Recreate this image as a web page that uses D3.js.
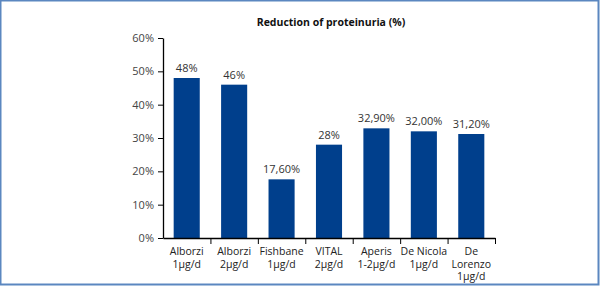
<!DOCTYPE html>
<html>
<head>
<meta charset="utf-8">
<script src="https://cdn.jsdelivr.net/npm/d3@7"></script>
<style>
  body { margin: 0; background: #fff; }
  svg { display: block; }
</style>
</head>
<body>
<div id="chart"></div>
<script>
const categories = [
  ["Alborzi", "1µg/d"],
  ["Alborzi", "2µg/d"],
  ["Fishbane", "1µg/d"],
  ["VITAL", "2µg/d"],
  ["Aperis", "1-2µg/d"],
  ["De Nicola", "1µg/d"],
  ["De", "Lorenzo", "1µg/d"]
];
const values = [48, 46, 17.6, 28, 32.9, 32, 31.2];
const valueLabels = ["48%", "46%", "17,60%", "28%", "32,90%", "32,00%", "31,20%"];
const yTicks = [0, 10, 20, 30, 40, 50, 60];

const width = 600;
const height = 286;
const margin = { left: 163, right: 105, top: 38, bottom: 48 };
const font = "'Open Sans', 'Noto Sans', sans-serif";

const svg = d3.select("#chart")
  .append("svg")
  .attr("width", width)
  .attr("height", height);

// frame
svg.append("rect")
  .attr("x", 0.5).attr("y", 0.5)
  .attr("width", width - 2).attr("height", height - 2)
  .attr("fill", "none")
  .attr("stroke", "#5b87c0")
  .attr("stroke-width", 2);

const x = d3.scaleBand()
  .domain(d3.range(categories.length))
  .range([margin.left, width - margin.right])
  .paddingInner(0.45)
  .paddingOuter(0.225);

const y = d3.scaleLinear()
  .domain([0, 60])
  .range([height - margin.bottom, margin.top]);

svg.append("text")
  .attr("x", 331)
  .attr("y", 26)
  .attr("text-anchor", "middle")
  .attr("font-family", font)
  .attr("font-size", "10.5px")
  .attr("font-weight", "bold")
  .attr("fill", "#111")
  .text("Reduction of proteinuria (%)");

// bars
svg.append("g")
  .selectAll("rect")
  .data(values)
  .enter().append("rect")
  .attr("x", (d, i) => x(i))
  .attr("y", d => y(d))
  .attr("width", x.bandwidth())
  .attr("height", d => y(0) - y(d))
  .attr("fill", "#003f8c");

svg.append("g")
  .selectAll("text")
  .data(values)
  .enter().append("text")
  .attr("x", (d, i) => x(i) + x.bandwidth() / 2)
  .attr("y", d => y(d) - 6)
  .attr("text-anchor", "middle")
  .attr("font-family", font)
  .attr("font-size", "11px")
  .attr("fill", "#333")
  .text((d, i) => valueLabels[i]);

// y axis
const yAxis = svg.append("g")
  .attr("transform", `translate(${margin.left},0)`)
  .call(d3.axisLeft(y).tickValues(yTicks).tickSize(5).tickSizeOuter(0).tickFormat(d => d + "%"));
yAxis.select(".domain").attr("stroke", "#000").attr("stroke-width", 1.3);
yAxis.selectAll(".tick line").attr("stroke", "#000");
yAxis.selectAll(".tick text")
  .attr("font-family", font)
  .attr("font-size", "11px")
  .attr("fill", "#444")
  .attr("x", -9);

// x axis
const xBound = d3.scaleLinear()
  .domain([0, categories.length])
  .range([margin.left, width - margin.right]);
const xAxis = svg.append("g")
  .attr("transform", `translate(0,${y(0)})`)
  .call(d3.axisBottom(xBound).tickValues(d3.range(1, categories.length + 1)).tickSize(6).tickSizeOuter(0).tickFormat(""));
xAxis.select(".domain").attr("stroke", "#000").attr("stroke-width", 1.3);
xAxis.selectAll(".tick line").attr("stroke", "#000");

svg.append("g")
  .selectAll("text")
  .data(categories)
  .enter().append("text")
  .attr("x", (d, i) => x(i) + x.bandwidth() / 2)
  .attr("y", y(0) + 17)
  .attr("text-anchor", "middle")
  .attr("font-family", font)
  .attr("font-size", "10.5px")
  .attr("fill", "#222")
  .each(function (d) {
    d3.select(this).selectAll("tspan")
      .data(d)
      .enter().append("tspan")
      .attr("x", d3.select(this).attr("x"))
      .attr("dy", (t, j) => j === 0 ? 0 : 12.5)
      .text(t => t);
  });
</script>
</body>
</html>
